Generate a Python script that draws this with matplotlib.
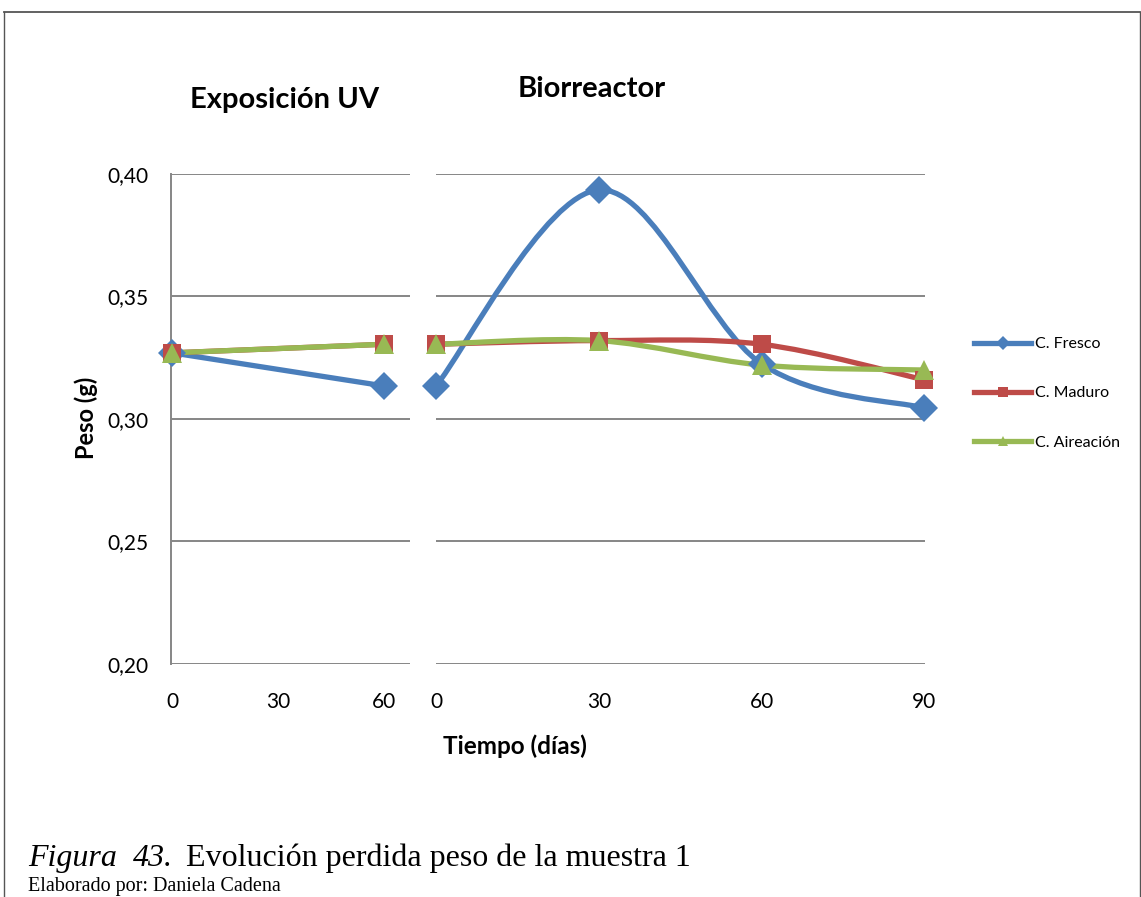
import matplotlib
matplotlib.use("Agg")
import matplotlib.pyplot as plt
from matplotlib.path import Path
from matplotlib.patches import PathPatch
from matplotlib.lines import Line2D

plt.rcParams['font.family'] = ['Lato', 'DejaVu Sans']

# ---- data ----
uv_days = [0, 60]
uv_fresco = [0.327, 0.3135]
uv_maduro = [0.327, 0.3305]
uv_aireacion = [0.327, 0.3305]

bio_days = [0, 30, 60, 90]
bio_fresco = [0.3135, 0.3935, 0.3225, 0.3045]
bio_maduro = [0.3305, 0.332, 0.3305, 0.316]
bio_aireacion = [0.3305, 0.332, 0.322, 0.320]

series_names = ["C. Fresco", "C. Maduro", "C. Aireación"]
colors = ["#4A7EBB", "#BE4B48", "#98B954"]
markers = ["D", "s", "^"]
marker_sizes = [14, 13, 15]

uv_ticks = [0, 30, 60]
bio_ticks = [0, 30, 60, 90]
y_ticks = [0.20, 0.25, 0.30, 0.35, 0.40]
y_labels = ["0,20", "0,25", "0,30", "0,35", "0,40"]

W, H = 1141, 897
fig = plt.figure(figsize=(W / 100, H / 100), dpi=100)


def fx(px):
    return px / W


def fy(py):
    return 1 - py / H


def smooth_path(xs, ys):
    verts = [(xs[0], ys[0])]
    codes = [Path.MOVETO]
    n = len(xs)
    for i in range(n - 1):
        i0 = max(i - 1, 0)
        i3 = min(i + 2, n - 1)
        c1 = (xs[i] + (xs[i + 1] - xs[i0]) / 6, ys[i] + (ys[i + 1] - ys[i0]) / 6)
        c2 = (xs[i + 1] - (xs[i3] - xs[i]) / 6, ys[i + 1] - (ys[i3] - ys[i]) / 6)
        verts += [c1, c2, (xs[i + 1], ys[i + 1])]
        codes += [Path.CURVE4] * 3
    return Path(verts, codes)


grid_color = "#868686"

# left panel
ax1 = fig.add_axes([fx(171), fy(664), fx(410 - 171), fy(174) - fy(664)])
ax1.set_xlim(-0.3, 67.4)
# right panel
ax2 = fig.add_axes([fx(436), fy(664), fx(925 - 436), fy(174) - fy(664)])
ax2.set_xlim(0, 90.1)

for ax in (ax1, ax2):
    ax.set_ylim(0.20, 0.40)
    ax.set_yticks(y_ticks)
    for s in ax.spines.values():
        s.set_visible(False)
    for yv in y_ticks:
        ax.axhline(yv, color=grid_color, lw=1.4, zorder=1)
    ax.tick_params(axis='x', length=0, labelsize=15, pad=20)
    ax.tick_params(axis='y', length=0)

ax1.set_yticklabels(y_labels, fontsize=15)
ax1.tick_params(axis='y', pad=16)
ax1.spines['left'].set_visible(True)
ax1.spines['left'].set_color(grid_color)
ax1.spines['left'].set_linewidth(1.4)
ax2.set_yticklabels([])

ax1.set_xticks(uv_ticks)
ax1.set_xticklabels([str(t) for t in uv_ticks])
ax2.set_xticks(bio_ticks)
ax2.set_xticklabels([str(t) for t in bio_ticks])

uv_series = [uv_fresco, uv_maduro, uv_aireacion]
bio_series = [bio_fresco, bio_maduro, bio_aireacion]

for ax, xs, series in ((ax1, uv_days, uv_series), (ax2, bio_days, bio_series)):
    for ys, c, m, ms in zip(series, colors, markers, marker_sizes):
        patch = PathPatch(smooth_path(xs, ys), facecolor='none', edgecolor=c,
                          lw=3.8, capstyle='round', joinstyle='round', zorder=3)
        patch.set_clip_on(False)
        ax.add_patch(patch)
        ax.plot(xs, ys, linestyle='none', marker=m, ms=ms, color=c,
                markeredgewidth=0, zorder=4, clip_on=False)

# titles and labels
fig.text(fx(285), fy(100), "Exposición UV", fontsize=21, fontweight='bold',
         ha='center', va='center')
fig.text(fx(592), fy(89), "Biorreactor", fontsize=21, fontweight='bold',
         ha='center', va='center')
fig.text(fx(86), fy(418), "Peso (g)", fontsize=17, fontweight='bold',
         ha='center', va='center', rotation=90)
fig.text(fx(515), fy(746), "Tiempo (días)", fontsize=17.5, fontweight='bold',
         ha='center', va='center')

# legend
handles = [Line2D([], [], color=c, lw=3.8, marker=m, ms=ms * 0.5, markeredgewidth=0)
           for c, m, ms in zip(colors, markers, marker_sizes)]
fig.legend(handles, series_names, loc='upper left',
           bbox_to_anchor=(fx(966), fy(329)), frameon=False, fontsize=11.5,
           handlelength=3.6, handletextpad=0.2, labelspacing=2.2, borderpad=0)

# caption
serif = 'Liberation Serif'
fig.text(fx(28), fy(858), "Figura", fontsize=23, family=serif,
         style='italic', ha='left', va='center')
fig.text(fx(133), fy(858), "43.", fontsize=23, family=serif,
         style='italic', ha='left', va='center')
fig.text(fx(186), fy(858), "Evolución perdida peso de la muestra 1", fontsize=23,
         family=serif, ha='left', va='center')
fig.text(fx(28), fy(886), "Elaborado por: Daniela Cadena", fontsize=14.5,
         family=serif, ha='left', va='center')

# frame border
fig.add_artist(Line2D([fx(3.5), fx(1140)], [fy(12.5), fy(12.5)], color="#555555", lw=1.3))
fig.add_artist(Line2D([fx(3.5), fx(3.5)], [fy(12.5), fy(897)], color="#555555", lw=1.0))
fig.add_artist(Line2D([fx(1140), fx(1140)], [fy(12.5), fy(897)], color="#555555", lw=1.0))

fig.savefig("out.png", dpi=100)
